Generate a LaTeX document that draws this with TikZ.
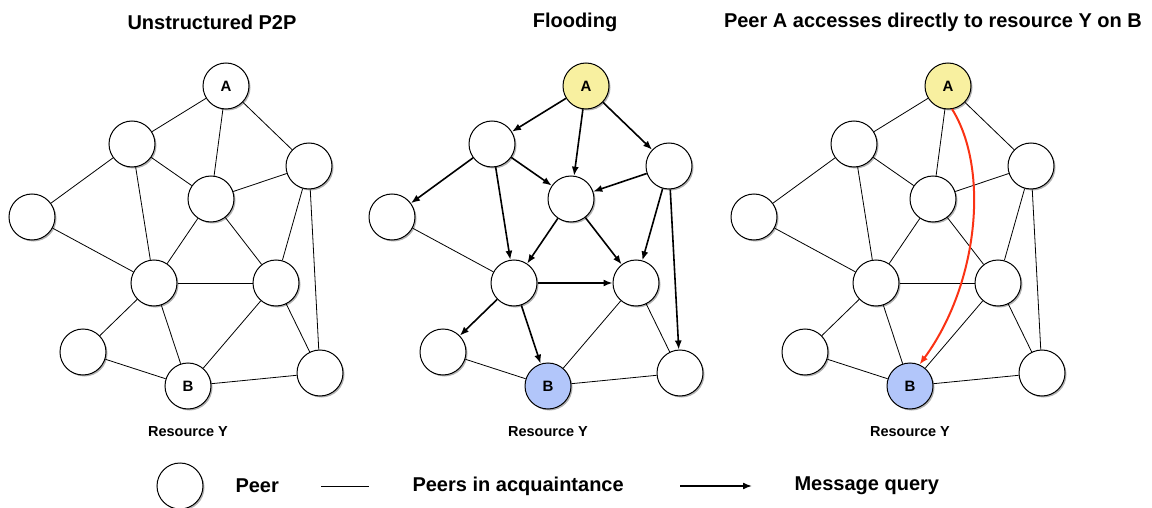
\documentclass[tikz,border=0pt]{standalone}
\usepackage{fontspec}
\setmainfont{Liberation Sans}
\usetikzlibrary{arrows.meta, shadows}

\definecolor{peerA}{RGB}{248,240,160}
\definecolor{peerB}{RGB}{178,198,250}
\definecolor{direct}{RGB}{250,50,20}

\begin{document}
\begin{tikzpicture}[x=1pt,y=-1pt,>={Latex[length=9pt,width=7pt]},
  peer/.style={circle,draw,line width=1pt,minimum size=46pt,inner sep=0pt,
    font=\fontsize{15}{15}\selectfont\bfseries,
    drop shadow={shadow xshift=1.5pt,shadow yshift=-1.5pt,fill=black,opacity=.3}},
  link/.style={line width=0.8pt},
  query/.style={->,line width=1.6pt},
  title/.style={font=\fontsize{20}{20}\selectfont\bfseries},
  caption/.style={font=\fontsize{14.5}{15}\selectfont\bfseries}]
  % page is 1152 x 508, one unit = one pixel, y runs down
  \useasboundingbox (0,0) rectangle (1152,508);

  % the three copies of the same overlay network
  \foreach \g/\dx/\ca/\cb in {u/0/white/white, f/360/peerA/peerB, d/722/peerA/peerB}{
    \begin{scope}[xshift=\dx]
      \node[peer,fill=\ca] (\g A) at (226,86) {A};
      \node[peer,fill=white] (\g n1) at (132,144) {};
      \node[peer,fill=white] (\g n2) at (309,166) {};
      \node[peer,fill=white] (\g n3) at (211,199) {};
      \node[peer,fill=white] (\g n4) at (32,217) {};
      \node[peer,fill=white] (\g n5) at (154,283) {};
      \node[peer,fill=white] (\g n6) at (276,283) {};
      \node[peer,fill=white] (\g n7) at (83,352) {};
      \node[peer,fill=\cb] (\g B) at (188,386) {B};
      \node[peer,fill=white] (\g n8) at (320,373) {};
      \node[caption] (\g res) at (188,432) {Resource Y};
    \end{scope}
  }

  % acquaintance links (left and right)
  \foreach \g in {u,d}
    \foreach \s/\t in {A/n1,A/n3,A/n2,n1/n3,n1/n4,n1/n5,n3/n2,n3/n5,n3/n6,n2/n6,
                       n2/n8,n4/n5,n5/n6,n5/n7,n5/B,n6/B,n6/n8,n7/B,B/n8}
      \draw[link] (\g\s) -- (\g\t);

  % flooding: query messages plus the unused links
  \foreach \s/\t in {A/n1,A/n3,A/n2,n1/n4,n1/n3,n1/n5,n2/n3,n2/n6,n2/n8,
                     n3/n5,n3/n6,n5/n6,n5/n7,n5/B}
    \draw[query] (f\s) -- (f\t);
  \foreach \s/\t in {n4/n5,n6/B,n6/n8,n7/B,B/n8}
    \draw[link] (f\s) -- (f\t);

  % direct access A -> B
  \draw[direct,line width=2pt,->] (dA.-80) .. controls (990,170) and (978,285) .. (dB.66);

  % titles
  \node[title] (t1) at (212,22) {Unstructured P2P};
  \node[title] (t2) at (575,22) {Flooding};
  \node[title] (t3) at (933,22) {Peer A accesses directly to resource Y on B};

  % legend
  \node[peer,fill=white] (legpeer) at (180,486) {};
  \node[title,anchor=west] (legpeertxt) at (232,486) {Peer};
  \coordinate (legl1) at (321,486);
  \coordinate (legl2) at (369,486);
  \draw[link] (legl1) -- (legl2);
  \node[title,anchor=west] (leglinktxt) at (409,486) {Peers in acquaintance};
  \coordinate (lega1) at (680,486);
  \coordinate (lega2) at (752,486);
  \draw[query] (lega1) -- (lega2);
  \node[title,anchor=west] (legarrowtxt) at (791,486) {Message query};
\end{tikzpicture}
\end{document}
